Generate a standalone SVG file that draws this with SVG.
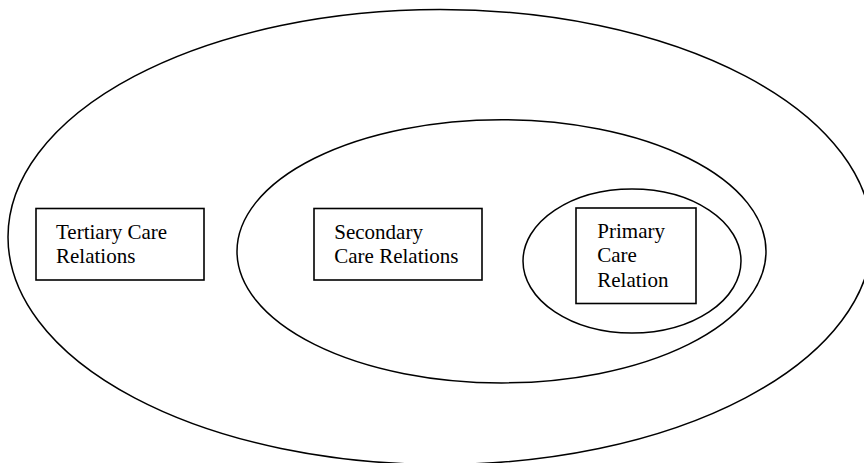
<svg xmlns="http://www.w3.org/2000/svg" width="864" height="463" viewBox="0 0 864 463">
  <style>
    .ring { fill: none; stroke: #000; stroke-width: 1.5; }
    .box { fill: #fff; stroke: #000; stroke-width: 1.6; }
    .label { font-family: "Liberation Serif", "Times New Roman", serif; font-size: 21px; fill: #000; }
  </style>
  <rect width="864" height="463" fill="#fff"/>

  <!-- Nested circles of care -->
  <g id="tertiary-ring">
    <ellipse class="ring" cx="440" cy="237" rx="432" ry="227.5"/>
  </g>
  <g id="secondary-ring">
    <ellipse class="ring" cx="501.5" cy="251.3" rx="264.5" ry="131.6"/>
  </g>
  <g id="primary-ring">
    <ellipse class="ring" cx="632" cy="261" rx="109" ry="72"/>
  </g>

  <!-- Labelled boxes -->
  <g id="tertiary">
    <rect class="box" x="36" y="208.5" width="168" height="71.5"/>
    <text class="label" x="56" y="238.5">Tertiary Care</text>
    <text class="label" x="56" y="262.7">Relations</text>
  </g>
  <g id="secondary">
    <rect class="box" x="314" y="208.5" width="168" height="71.5"/>
    <text class="label" x="334.3" y="238.5">Secondary</text>
    <text class="label" x="334.3" y="262.7">Care Relations</text>
  </g>
  <g id="primary">
    <rect class="box" x="576" y="208" width="120" height="95.5"/>
    <text class="label" x="597.3" y="238.4">Primary</text>
    <text class="label" x="597.3" y="262.4">Care</text>
    <text class="label" x="597.3" y="286.6">Relation</text>
  </g>

  <g id="connectors"/>
</svg>
